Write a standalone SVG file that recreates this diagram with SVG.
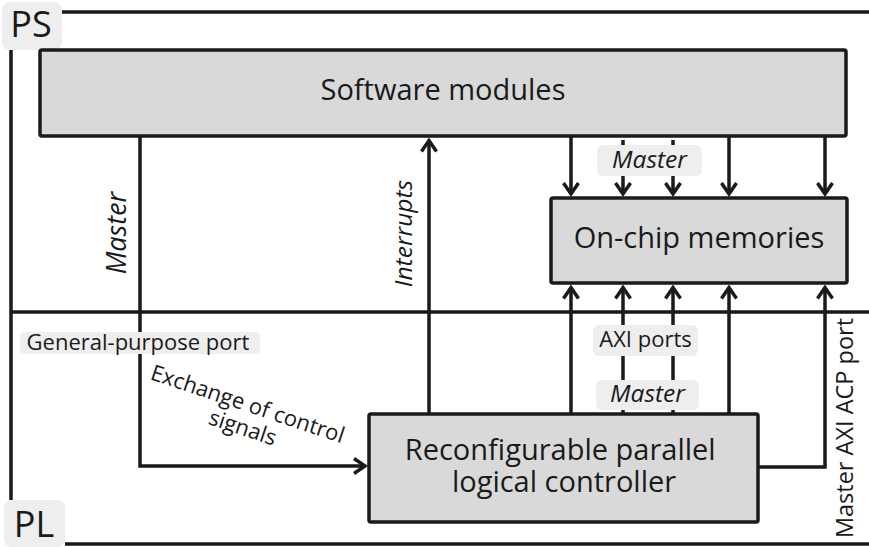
<svg xmlns="http://www.w3.org/2000/svg" width="869" height="547" viewBox="0 0 869 547">
  <defs>
    <style>
      .frame { fill: none; stroke: #1a1a1a; stroke-width: 3.5; }
      .region { fill: #eeeeee; }
      .region-text { font-family: "Open Sans", "Liberation Sans", sans-serif; font-size: 36px; fill: #1a1a1a; text-anchor: middle; }
      .node { fill: #d9d9d9; stroke: #1a1a1a; stroke-width: 3.5; }
      .node-text { font-family: "Open Sans", "Liberation Sans", sans-serif; font-size: 29px; fill: #1a1a1a; text-anchor: middle; }
      .wire { fill: none; stroke: #1a1a1a; stroke-width: 3.5; }
      .tag { fill: #eeeeee; }
      .label { font-family: "Open Sans", "Liberation Sans", sans-serif; font-size: 22px; fill: #1a1a1a; text-anchor: middle; }
      .italic { font-style: italic; font-size: 24.5px; }
    </style>
    <marker id="arrow" markerUnits="userSpaceOnUse" markerWidth="20" markerHeight="22" viewBox="-14 -11 18 22" refX="0" refY="0" orient="auto">
      <path d="M-11,-7.5 L0,0 L-11,7.5" fill="none" stroke="#1a1a1a" stroke-width="3.5"/>
    </marker>
  </defs>

  <!-- PS / PL regions -->
  <g id="regions">
    <path class="frame" d="M62,12 H869 M11,50 V500 M11,312 H869 M65,544 H869"/>
    <g id="ps">
      <rect class="region" x="2" y="2" width="60" height="48" rx="8"/>
      <text class="region-text" x="31" y="37">PS</text>
    </g>
    <g id="pl">
      <rect class="region" x="4" y="500" width="61" height="47" rx="8"/>
      <text class="region-text" x="34" y="537">PL</text>
    </g>
  </g>

  <!-- Connectors -->
  <g id="connectors">
    <path class="wire" d="M140,136 V466 H365" marker-end="url(#arrow)"/>
    <path class="wire" d="M429,414 V140.5" marker-end="url(#arrow)"/>
    <path class="wire" d="M571,136 V194" marker-end="url(#arrow)"/>
    <path class="wire" d="M623,140 V194" marker-end="url(#arrow)"/>
    <path class="wire" d="M673,140 V194" marker-end="url(#arrow)"/>
    <path class="wire" d="M729,136 V194" marker-end="url(#arrow)"/>
    <path class="wire" d="M825,136 V194" marker-end="url(#arrow)"/>
    <path class="wire" d="M571,414 V287.5" marker-end="url(#arrow)"/>
    <path class="wire" d="M623,414 V287.5" marker-end="url(#arrow)"/>
    <path class="wire" d="M673,414 V287.5" marker-end="url(#arrow)"/>
    <path class="wire" d="M729,414 V287.5" marker-end="url(#arrow)"/>
    <path class="wire" d="M758,467 H825 V287.5" marker-end="url(#arrow)"/>

    <!-- connector labels -->
    <text class="label italic" style="font-size:27px" transform="translate(126,233) rotate(-90)">Master</text>
    <text class="label italic" transform="translate(412,233.5) rotate(-90)">Interrupts</text>
    <g id="tag-master-top">
      <rect class="tag" x="597" y="145" width="105" height="31" rx="6"/>
      <text class="label italic" x="649.5" y="167.5">Master</text>
    </g>
    <g id="tag-axi-ports">
      <rect class="tag" x="593" y="325" width="105" height="31" rx="6"/>
      <text class="label" x="645.5" y="347">AXI ports</text>
    </g>
    <g id="tag-master-bottom">
      <rect class="tag" x="596" y="380" width="103" height="30" rx="6"/>
      <text class="label italic" x="647.5" y="402">Master</text>
    </g>
    <g id="tag-general-purpose">
      <rect class="tag" x="20" y="332" width="240" height="22" rx="5"/>
      <text class="label" x="138" y="350">General-purpose port</text>
    </g>
    <text class="label" transform="translate(248,412) rotate(18.5)">
      <tspan x="0" y="0">Exchange of control</tspan>
      <tspan x="0" y="24">signals</tspan>
    </text>
    <text class="label" style="font-size:23.5px" transform="translate(853,428) rotate(-90)">Master AXI ACP port</text>
  </g>

  <!-- Nodes -->
  <g id="software-modules">
    <rect class="node" x="40" y="50" width="806" height="86" rx="2"/>
    <text class="node-text" x="443" y="100">Software modules</text>
  </g>
  <g id="on-chip-memories">
    <rect class="node" x="551" y="198" width="296" height="85" rx="2"/>
    <text class="node-text" x="699" y="248">On-chip memories</text>
  </g>
  <g id="controller">
    <rect class="node" x="369" y="414" width="389" height="108" rx="2"/>
    <text class="node-text">
      <tspan x="564" y="460">Reconfigurable parallel</tspan>
      <tspan x="564" y="492">logical controller</tspan>
    </text>
  </g>
</svg>
